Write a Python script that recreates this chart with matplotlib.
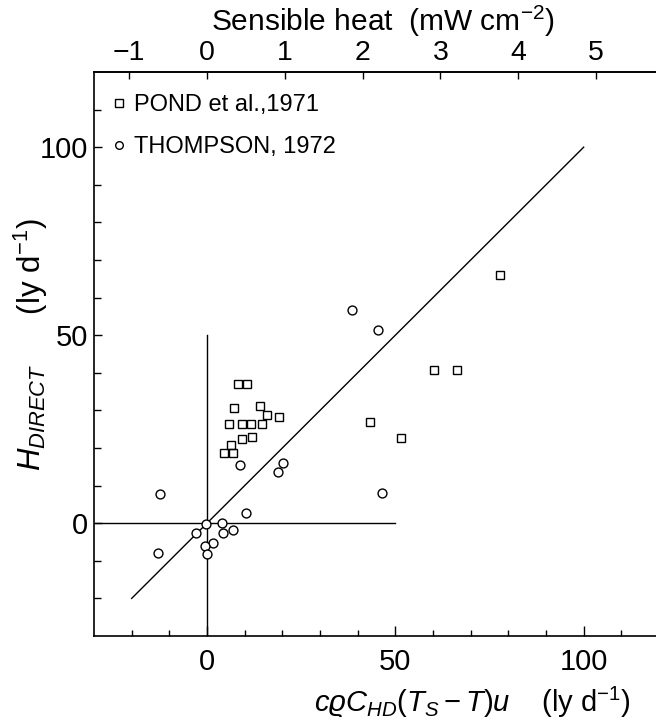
import matplotlib
matplotlib.use('Agg')
import matplotlib.pyplot as plt
from matplotlib.ticker import FixedLocator, NullFormatter
from matplotlib.lines import Line2D
import numpy as np

plt.rcParams['font.family'] = ['Liberation Sans', 'DejaVu Sans']
plt.rcParams['mathtext.fontset'] = 'custom'
plt.rcParams['mathtext.rm'] = 'Liberation Sans'
plt.rcParams['mathtext.it'] = 'Liberation Sans:italic'
plt.rcParams['mathtext.bf'] = 'Liberation Sans:bold'
plt.rcParams['mathtext.sf'] = 'Liberation Sans'
plt.rcParams['mathtext.fallback'] = 'stixsans'

# ---- data (ly d^-1) ----
pond_x = [8.3, 10.5, 7.2, 14.2, 16.0, 19.2, 5.9, 9.4, 11.7, 14.5, 9.4, 11.9,
          6.3, 4.6, 6.8, 77.7, 60.2, 66.4, 43.2, 51.4]
pond_y = [36.9, 36.9, 30.7, 31.3, 28.9, 28.3, 26.3, 26.5, 26.5, 26.5, 22.5, 23.0,
          20.9, 18.8, 18.8, 66.0, 40.7, 40.7, 27.0, 22.7]

thompson_x = [38.4, 45.3, -12.5, 8.75, 20.1, 18.9, 10.3, -0.3, 4.1, -2.9, 4.3,
              6.8, 1.7, -0.5, 0.1, -12.9, 46.5]
thompson_y = [56.7, 51.5, 7.7, 15.5, 15.9, 13.7, 2.6, -0.3, 0.1, -2.5, -2.5,
              -1.7, -5.3, -6.0, -8.2, -7.8, 8.0]

one_to_one = [-20, 100]
cross_extent = 50
bottom_major = [0, 50, 100]
left_major = [0, 50, 100]
minor_ticks = list(range(-20, 111, 10))
top_ticks_mw = [-1, 0, 1, 2, 3, 4, 5]
LY_PER_MW = 20.65   # 1 mW cm^-2 = 20.65 ly d^-1

W, H = 656, 721
fig = plt.figure(figsize=(W / 100, H / 100), dpi=100)
x0, x1, ytop, ybot = 94, 659, 72, 636
ax = fig.add_axes([x0 / W, (H - ybot) / H, (x1 - x0) / W, (ybot - ytop) / H])
ax.set_xlim(-30, 120)
ax.set_ylim(-30, 120)

lw = 1.0
ax.plot(one_to_one, one_to_one, color='black', lw=lw)
ax.plot([0, 0], [-30, cross_extent], color='black', lw=lw)
ax.plot([-30, cross_extent], [0, 0], color='black', lw=lw)

ax.plot(pond_x, pond_y, ls='none', marker='s', ms=5.8, mfc='none', mec='black',
        mew=1.0, clip_on=False)
ax.plot(thompson_x, thompson_y, ls='none', marker='o', ms=6.4, mfc='white',
        mec='black', mew=1.0, clip_on=False)

for s in ['left', 'bottom', 'top']:
    ax.spines[s].set_linewidth(1.2)
ax.spines['right'].set_visible(False)

ax.xaxis.set_major_locator(FixedLocator(bottom_major))
ax.xaxis.set_minor_locator(FixedLocator(minor_ticks))
ax.yaxis.set_major_locator(FixedLocator(left_major))
ax.yaxis.set_minor_locator(FixedLocator(minor_ticks))
ax.xaxis.set_minor_formatter(NullFormatter())
ax.yaxis.set_minor_formatter(NullFormatter())
ax.tick_params(which='both', direction='in', top=False, right=False, width=1.0)
ax.tick_params(axis='x', which='major', length=7, pad=9, labelsize=21)
ax.tick_params(axis='x', which='minor', length=4)
ax.tick_params(axis='y', which='major', length=6, pad=4, labelsize=21)
ax.tick_params(axis='y', which='minor', length=5)

sec = ax.secondary_xaxis('top', functions=(lambda v: v / LY_PER_MW,
                                           lambda m: m * LY_PER_MW))
sec.set_xticks(top_ticks_mw)
sec.tick_params(direction='in', length=5, width=1.0, pad=4, labelsize=20.5)
sec.spines['top'].set_linewidth(1.2)
sec.set_xlabel(r'Sensible heat  (mW cm$^{-2}$)', fontsize=21.5, labelpad=7)
sec.xaxis.label.set_x((383 - x0) / (x1 - x0))

ax.set_xlabel(r'$c\varrho C_{HD}(T_S - T)u$    (ly d$^{-1}$)', fontsize=21)
ax.xaxis.set_label_coords((472 - x0) / (x1 - x0), (ybot - 685) / (ybot - ytop))
ax.set_ylabel(r'$H_{DIRECT}$      (ly d$^{-1}$)', fontsize=22.5)
ax.yaxis.set_label_coords((50 - x0) / (x1 - x0), (ybot - 345) / (ybot - ytop))

handles = [
    Line2D([], [], ls='none', marker='s', ms=5.5, mfc='none', mec='black', mew=1.0),
    Line2D([], [], ls='none', marker='o', ms=5.5, mfc='none', mec='black', mew=1.0),
]
ax.legend(handles, ['POND et al.,1971', 'THOMPSON, 1972'], loc='upper left',
          bbox_to_anchor=((113 - x0) / (x1 - x0), (ybot - 94) / (ybot - ytop)),
          frameon=False, fontsize=17, numpoints=1, handlelength=0.5,
          handletextpad=0.4, labelspacing=0.85, borderpad=0, borderaxespad=0)

fig.savefig('out.png', dpi=100)
